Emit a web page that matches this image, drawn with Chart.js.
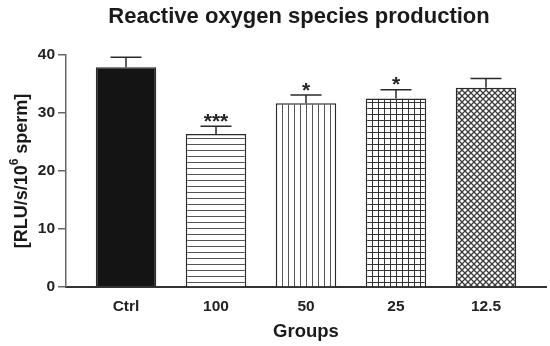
<!DOCTYPE html>
<html>
<head>
<meta charset="utf-8">
<script src="https://cdn.jsdelivr.net/npm/chart.js@4"></script>
<style>
  html, body { margin: 0; padding: 0; background: #fff; }
  #wrap { width: 550px; height: 346px; }
</style>
</head>
<body>
<div id="wrap"><canvas id="ros"></canvas></div>
<script>
// ── data ────────────────────────────────────────────────────────────────────
const groups   = ['Ctrl', '100', '50', '25', '12.5'];
const means    = [37.9, 26.4, 31.7, 32.5, 34.35];
const sems     = [1.7, 1.3, 1.4, 1.5, 1.6];
const stars    = ['', '***', '*', '*', ''];
const yTicks   = [0, 10, 20, 30, 40];
const patterns = ['solid', 'hlines', 'vlines', 'grid', 'cross'];

const INK = '#222';
const FONT = '"Liberation Sans", Arial, sans-serif';

// ── hatch fills (small tiles repeated by the canvas) ────────────────────────
function makePattern(kind) {
  if (kind === 'solid') return '#141414';
  const t = document.createElement('canvas');
  const s = 6;
  t.width = s; t.height = s;
  const c = t.getContext('2d');
  c.fillStyle = '#fff';
  c.fillRect(0, 0, s, s);
  c.strokeStyle = kind === 'grid' ? '#333' : '#555';
  c.lineWidth = 1;
  c.beginPath();
  if (kind === 'hlines' || kind === 'grid') { c.moveTo(0, 0.5); c.lineTo(s, 0.5); }
  if (kind === 'vlines' || kind === 'grid') { c.moveTo(0.5, 0); c.lineTo(0.5, s); }
  if (kind === 'cross') {
    c.strokeStyle = '#3a3a3a';
    c.lineWidth = 1.3;
    c.moveTo(-1, -1); c.lineTo(s + 1, s + 1);
    c.moveTo(s + 1, -1); c.lineTo(-1, s + 1);
  }
  c.stroke();
  return document.getElementById('ros').getContext('2d').createPattern(t, 'repeat');
}

// ── error bars + significance stars + titles ────────────────────────────────
const extras = {
  id: 'extras',
  afterDatasetsDraw(chart) {
    const { ctx, scales: { x, y } } = chart;
    ctx.save();
    ctx.strokeStyle = '#2a2a2a';
    ctx.lineWidth = 1.5;
    means.forEach((m, i) => {
      const px = x.getPixelForValue(i);
      const yMean = y.getPixelForValue(m);
      const yTop = y.getPixelForValue(m + sems[i]);
      ctx.beginPath();
      ctx.moveTo(px, yMean);
      ctx.lineTo(px, yTop);
      ctx.moveTo(px - 15.5, yTop);
      ctx.lineTo(px + 15.5, yTop);
      ctx.stroke();
      if (stars[i]) {
        ctx.fillStyle = INK;
        ctx.font = `bold 21px ${FONT}`;
        ctx.textAlign = 'center';
        ctx.textBaseline = 'alphabetic';
        ctx.fillText(stars[i], px, yTop + 1.5);
      }
    });
    ctx.restore();
  },
  afterDraw(chart) {
    const { ctx, chartArea } = chart;
    ctx.save();
    ctx.fillStyle = '#1a1a1a';
    // main title
    ctx.font = `bold 22px ${FONT}`;
    ctx.textAlign = 'center';
    ctx.textBaseline = 'middle';
    ctx.fillText('Reactive oxygen species production', 299, 17);

    // y title with superscript 6
    const main = `bold 18px ${FONT}`;
    const sup  = `bold 12px ${FONT}`;
    const parts = [['[RLU/s/10', main, 0], ['6', sup, -7], [' sperm]', main, 0]];
    let total = 0;
    parts.forEach(p => { ctx.font = p[1]; total += ctx.measureText(p[0]).width; });
    ctx.translate(21, (chartArea.top + chartArea.bottom) / 2);
    ctx.rotate(-Math.PI / 2);
    ctx.textAlign = 'left';
    ctx.textBaseline = 'middle';
    let cx = -total / 2;
    parts.forEach(([txt, f, dy]) => {
      ctx.font = f;
      ctx.fillText(txt, cx, dy + 1);
      cx += ctx.measureText(txt).width;
    });
    ctx.restore();
  }
};

new Chart(document.getElementById('ros'), {
  type: 'bar',
  data: {
    datasets: [{
      data: means.map((v, i) => ({ x: i, y: v })),
      backgroundColor: patterns.map(makePattern),
      borderColor: '#2a2a2a',
      borderWidth: 1.5,
      barPercentage: 0.672,
      categoryPercentage: 1,
    }]
  },
  options: {
    responsive: true,
    maintainAspectRatio: false,
    animation: false,
    layout: { padding: { top: 55, right: 4, bottom: 0, left: 0 } },
    plugins: {
      legend: { display: false },
      tooltip: { enabled: false },
    },
    scales: {
      x: {
        type: 'linear',
        offset: false,
        min: -0.667,
        max: 4.667,
        afterBuildTicks: s => { s.ticks = groups.map((_, i) => ({ value: i })); },
        afterFit: s => { s.height = 59; },
        grid: { display: false, drawTicks: false },
        border: { display: true, color: '#333', width: 2 },
        ticks: {
          padding: 10,
          color: INK,
          font: { family: FONT, size: 15.5, weight: 'bold' },
          callback: v => groups[v] ?? '',
        },
        title: {
          display: true,
          text: 'Groups',
          color: '#1a1a1a',
          font: { family: FONT, size: 18.5, weight: 'bold' },
          padding: { top: 0, bottom: 3 },
        },
      },
      y: {
        min: 0,
        max: 40,
        afterBuildTicks: s => { s.ticks = yTicks.map(v => ({ value: v })); },
        afterFit: s => { s.width = 66; },
        grid: { drawOnChartArea: false, drawTicks: true, tickLength: 8, color: '#666', lineWidth: 1.5 },
        border: { display: true, color: '#666', width: 1.5 },
        ticks: {
          padding: 3,
          color: INK,
          font: { family: FONT, size: 15.5, weight: 'bold' },
        },
      },
    },
  },
  plugins: [extras],
});
</script>
</body>
</html>
